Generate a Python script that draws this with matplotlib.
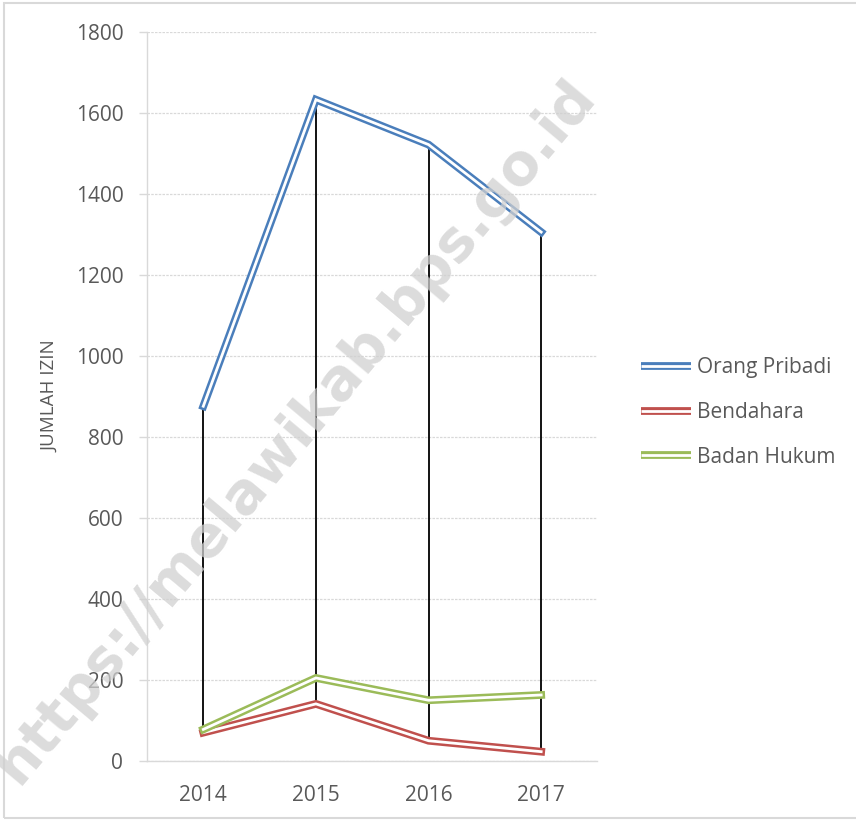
import matplotlib.pyplot as plt
from matplotlib.lines import Line2D
from matplotlib.patches import Rectangle

plt.rcParams['font.family'] = ['Open Sans', 'DejaVu Sans']

# data
years = ['2014', '2015', '2016', '2017']
orang_pribadi = [876, 1633, 1522, 1306]
bendahara = [70, 141, 50, 23]
badan_hukum = [78, 205, 150, 163]

series = [
    ('Orang Pribadi', orang_pribadi, '#4a7ebb'),
    ('Bendahara', bendahara, '#c0504d'),
    ('Badan Hukum', badan_hukum, '#9bbb59'),
]

grey_txt = '#595959'
grey_line = '#d9d9d9'

fig = plt.figure(figsize=(8.56, 8.21), dpi=100)
ax = fig.add_axes([0.1717, 0.0731, 0.5263, 0.8879])

x = list(range(len(years)))

# high-low lines
highs = [max(v) for v in zip(orang_pribadi, bendahara, badan_hukum)]
lows = [min(v) for v in zip(orang_pribadi, bendahara, badan_hukum)]
ax.vlines(x, lows, highs, color='black', lw=1.3, zorder=2)

# double ("compound") lines: coloured stroke with a white core
handles = []
for name, vals, col in series:
    ax.plot(x, vals, color=col, lw=5.6, solid_joinstyle='miter', zorder=3)
    ax.plot(x, vals, color='white', lw=2.0, solid_joinstyle='miter', zorder=3)
    handles.append((Line2D([], [], color=col, lw=5.6, solid_capstyle='butt'),
                    Line2D([], [], color='white', lw=2.0, solid_capstyle='butt')))

ax.set_xlim(-0.5, len(years) - 0.5)
ax.set_ylim(0, 1800)
ax.set_yticks(range(0, 1801, 200))
ax.set_xticks(x)
ax.set_xticklabels(years)
ax.grid(axis='y', color=grey_line, lw=0.9, linestyle=(0, (2, 1)), zorder=0)
ax.set_axisbelow(True)

for s in ['top', 'right']:
    ax.spines[s].set_visible(False)
for s in ['left', 'bottom']:
    ax.spines[s].set_color(grey_line)
    ax.spines[s].set_linewidth(1.0)

ax.tick_params(axis='y', length=6, width=1.0, color=grey_line, pad=11,
               labelsize=15, labelcolor=grey_txt)
ax.tick_params(axis='x', length=0, pad=17, labelsize=15, labelcolor=grey_txt)
ax.set_ylabel('JUMLAH IZIN', fontsize=13.5, color=grey_txt, labelpad=12)

leg = fig.legend(handles, [s[0] for s in series],
                 loc='center left', bbox_to_anchor=(0.7266, 0.4976),
                 frameon=False, fontsize=15, labelcolor=grey_txt,
                 handlelength=2.4, handletextpad=0.3, labelspacing=1.13)

# watermark
fig.text(0.345, 0.474, 'https://melawikab.bps.go.id', fontsize=41,
         fontweight='bold', color='#d0d0d0', alpha=0.75, rotation=50,
         ha='center', va='center', zorder=10, family=['DejaVu Sans'])

# chart-area border
fig.patches.append(Rectangle((0.005, 0.004), 1.2, 0.992,
                             transform=fig.transFigure, fill=False,
                             edgecolor=grey_line, lw=1.5))

fig.savefig('out.png', dpi=100)
